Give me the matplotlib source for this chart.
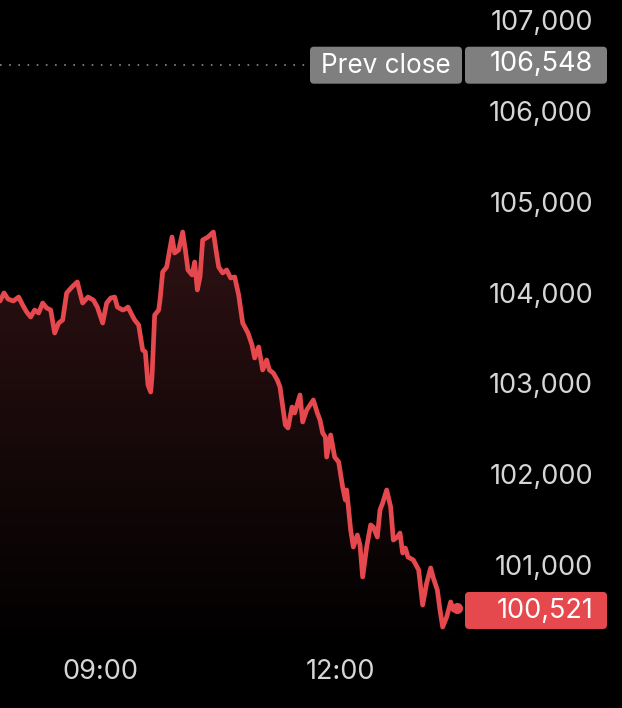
import numpy as np
import matplotlib
matplotlib.use("Agg")
import matplotlib.pyplot as plt
from matplotlib.patches import FancyBboxPatch
from matplotlib.transforms import IdentityTransform, offset_copy

plt.rcParams['font.family'] = ['Inter', 'DejaVu Sans']

# intraday trace, clock time -> price
times = [
    "07:45", "07:48", "07:51", "07:55", "07:59", "08:02", "08:05", "08:08", "08:11", "08:14",
    "08:17", "08:20", "08:23", "08:26", "08:29", "08:32", "08:35", "08:39", "08:43", "08:45",
    "08:47", "08:51", "08:55", "08:58", "09:02", "09:05", "09:08", "09:11", "09:13", "09:17",
    "09:19", "09:21", "09:24", "09:26", "09:29", "09:32", "09:34", "09:36", "09:38", "09:39",
    "09:41", "09:44", "09:45", "09:47", "09:50", "09:54", "09:56", "09:59", "10:02", "10:04",
    "10:06", "10:09", "10:11", "10:13", "10:15", "10:17", "10:21", "10:25", "10:27", "10:29",
    "10:32", "10:35", "10:38", "10:41", "10:44", "10:47", "10:51", "10:54", "10:56", "10:59",
    "11:02", "11:05", "11:07", "11:10", "11:13", "11:15", "11:19", "11:21", "11:24", "11:26",
    "11:30", "11:32", "11:35", "11:40", "11:43", "11:45", "11:47", "11:49", "11:50", "11:53",
    "11:56", "11:59", "12:02", "12:04", "12:05", "12:08", "12:10", "12:13", "12:15", "12:17",
    "12:20", "12:23", "12:25", "12:28", "12:30", "12:32", "12:35", "12:38", "12:40", "12:43",
    "12:45", "12:47", "12:49", "12:51", "12:55", "12:59", "13:02", "13:05", "13:08", "13:10",
    "13:13", "13:15", "13:17", "13:20", "13:23", "13:25", "13:28",
]
prices = [
    103907, 103996, 103929, 103907, 103951, 103863, 103786, 103731, 103808, 103775,
    103885, 103830, 103808, 103555, 103665, 103698, 103996, 104062, 104117, 103996,
    103885, 103951, 103918, 103841, 103665, 103885, 103940, 103951, 103841, 103808,
    103819, 103841, 103753, 103698, 103643, 103368, 103346, 102982, 102905, 103070,
    103753, 103808, 103918, 104227, 104282, 104612, 104436, 104469, 104667, 104469,
    104249, 104194, 104337, 104029, 104172, 104579, 104612, 104667, 104469, 104282,
    104216, 104249, 104161, 104172, 103974, 103665, 103555, 103423, 103280, 103401,
    103148, 103258, 103148, 103114, 103037, 102960, 102542, 102509, 102740, 102674,
    102872, 102575, 102707, 102817, 102674, 102597, 102454, 102410, 102189, 102432,
    102189, 102134, 101859, 101716, 101826, 101385, 101198, 101330, 101220, 100868,
    101198, 101441, 101418, 101308, 101606, 101683, 101826, 101639, 101275, 101308,
    101352, 101132, 101187, 101088, 101055, 100945, 100559, 100802, 100967, 100857,
    100725, 100504, 100317, 100427, 100593, 100504, 100521,
]
prev_close = 106548
last_price = 100521
y_ticks = [101000, 102000, 103000, 104000, 105000, 106000, 107000]
x_ticks = ["09:00", "12:00"]


def to_min(t):
    h, m = t.split(":")
    return int(h) * 60 + int(m)


x = np.array([to_min(t) for t in times], dtype=float)
y = np.array(prices, dtype=float)

RED = "#e5484d"
GREY_BOX = "#7f7f7f"
LABEL = "#d6d6d6"
FS = 19.5

fig = plt.figure(figsize=(6.22, 7.08), dpi=100, facecolor="black")
ax = fig.add_axes([0, 0, 1, 1])
ax.set_facecolor("black")
ax.set_xlim(465, 931.5)
ax.set_ylim(99425, 107222)
ax.axis("off")

# labels sit a few px lower than their exact value
ylab = offset_copy(ax.get_yaxis_transform(), fig=fig, x=0, y=-3, units="dots")

# gradient fill under the line
fill_bottom = 100000
poly = ax.fill_between(x, y, fill_bottom, color="none", lw=0)
grad = np.linspace(0, 1, 256).reshape(-1, 1)
top_rgb = np.array([48, 18, 20]) / 255.0
img = np.zeros((256, 1, 4))
img[:, 0, :3] = top_rgb * grad
img[:, 0, 3] = 1.0
im = ax.imshow(img, extent=[x.min(), x.max(), fill_bottom, 104900],
               origin="lower", aspect="auto", zorder=1, interpolation="bilinear")
im.set_clip_path(poly.get_paths()[0], transform=ax.transData)

ax.plot(x, y, color=RED, lw=3.4, solid_joinstyle="round", solid_capstyle="round", zorder=3)
ax.plot(x[-1], y[-1], "o", color=RED, ms=7, zorder=4)

# prev close dotted line
ax.plot([x.min(), x.min() + 305 * 0.75], [prev_close, prev_close], color="#8a8a8a",
        lw=1.2, dashes=(1, 4.5), zorder=2,
        transform=offset_copy(ax.transData, fig=fig, x=0, y=-4, units="dots"))

# y labels on the right
for v in y_ticks:
    ax.text(593 / 622, v, f"{v:,}", transform=ylab,
            ha="right", va="center", color=LABEL, fontsize=FS)

# x labels
for t in x_ticks:
    ax.text(to_min(t), 1 - 672 / 708, t, transform=ax.get_xaxis_transform(),
            ha="center", va="center", color=LABEL, fontsize=FS)


def pill(x0, x1, value, color, shift):
    yc = ax.transData.transform((0, value))[1] - shift
    h = 37
    box = FancyBboxPatch((x0, yc - h / 2), x1 - x0, h,
                         boxstyle="round,pad=0,rounding_size=4",
                         transform=IdentityTransform(), facecolor=color,
                         edgecolor="none", zorder=5)
    ax.add_artist(box)
    return yc


yc = pill(310, 462, prev_close, GREY_BOX, 4)
pill(465, 607, prev_close, GREY_BOX, 4)
ax.text(386, yc - 1, "Prev close", transform=IdentityTransform(), ha="center",
        va="center", color="white", fontsize=18.8, zorder=6)
ax.text(593 / 622, prev_close, f"{prev_close:,}", transform=ylab,
        ha="right", va="center", color="white", fontsize=FS, zorder=6)

pill(465, 607, last_price, RED, 2)
ax.text(593 / 622, last_price, f"{last_price:,}", transform=ylab,
        ha="right", va="center", color="white", fontsize=FS, zorder=6)

fig.savefig("out.png", dpi=100, facecolor="black")
